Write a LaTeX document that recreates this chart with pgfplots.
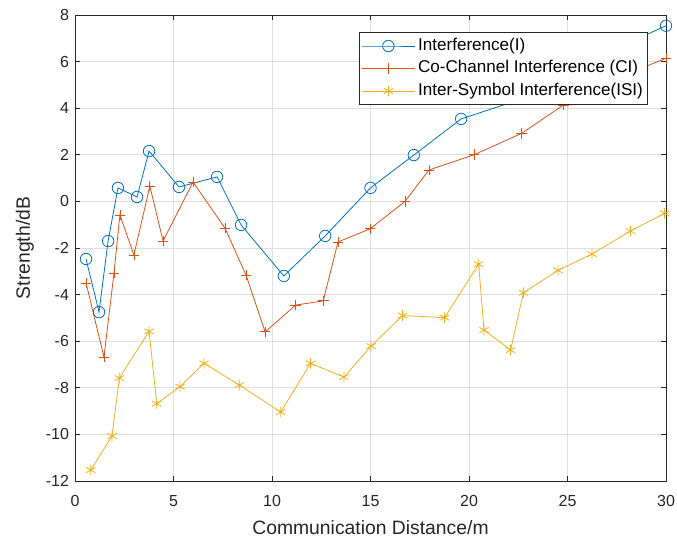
\documentclass[border=0pt]{standalone}
\usepackage{pgfplots}
\pgfplotsset{compat=1.18}
\usepackage{fontspec}
\setmainfont{Liberation Sans}
\definecolor{mblue}{HTML}{0072BD}
\definecolor{morange}{HTML}{D95319}
\definecolor{myellow}{HTML}{EDB120}
\definecolor{axgray}{HTML}{262626}
\definecolor{gridgray}{HTML}{DFDFDF}
\begin{document}
\begin{tikzpicture}
\begin{axis}[
  scale only axis,
  width=443.25pt, height=349.5pt,
  xmin=0, xmax=30, ymin=-12, ymax=8,
  xtick={0,5,...,30}, ytick={-12,-10,...,8},
  grid=major,
  major grid style={gridgray, line width=0.5pt},
  axis line style={axgray, line width=0.6pt},
  tick style={axgray, line width=0.6pt},
  tick align=inside,
  major tick length=4pt,
  ticklabel style={font=\fontsize{12pt}{14pt}\selectfont, text=axgray},
  xticklabel style={yshift=-7pt},
  yticklabel style={xshift=-1pt},
  /pgf/number format/assume math mode=true,
  xlabel={Communication Distance/m},
  ylabel={Strength/dB},
  label style={font=\fontsize{14.5pt}{16pt}\selectfont, text=axgray},
  xlabel style={yshift=-4pt},
  ylabel style={yshift=2pt},
  legend style={at={(rel axis cs:1,1)}, anchor=north east, xshift=-13.5pt, yshift=-13pt,
    font=\fontsize{12.8pt}{14pt}\selectfont, draw=axgray, line width=0.6pt, fill=white,
    cells={anchor=west}, inner sep=1.5pt, row sep=0pt,
    nodes={text height=9.7pt, text depth=3.2pt, inner sep=2pt}},
  legend image code/.code={\draw[mark repeat=2, mark phase=2, line width=0.6pt] plot coordinates {(0pt,0pt) (20pt,0pt) (40pt,0pt)};},
  every axis plot/.append style={line width=0.6pt},
]
\addplot[mblue, mark=o, mark size=4.3pt] coordinates {
(0.56,-2.47) (1.22,-4.75) (1.68,-1.70) (2.18,0.58) (3.15,0.19) (3.76,2.16)
(5.28,0.62) (7.21,1.05) (8.43,-1.01) (10.6,-3.2) (12.7,-1.48) (15.0,0.58)
(17.2,1.99) (19.6,3.54) (24.3,4.85) (27.2,6.45) (30,7.54)};
\addlegendentry{Interference(I)}
\addplot[morange, mark=+, mark size=4pt] coordinates {
(0.56,-3.5) (1.47,-6.68) (1.98,-3.07) (2.28,-0.58) (2.99,-2.3) (3.8,0.66)
(4.47,-1.70) (5.99,0.83) (7.61,-1.14) (8.68,-3.16) (9.65,-5.6) (11.2,-4.45)
(12.6,-4.27) (13.35,-1.74) (14.97,-1.18) (16.75,0.0) (17.97,1.35) (20.25,2.0)
(22.67,2.92) (24.8,4.14) (27.5,5.3) (30,6.14)};
\addlegendentry{Co-Channel Interference (CI)}
\addplot[myellow, mark=asterisk, mark size=4pt] coordinates {
(0.80,-11.53) (1.88,-10.07) (2.25,-7.58) (3.76,-5.58) (4.15,-8.68) (5.33,-7.95)
(6.55,-6.95) (8.34,-7.88) (10.44,-9.04) (11.96,-6.95) (13.65,-7.54) (15.03,-6.21)
(16.63,-4.9) (18.76,-4.99) (20.49,-2.69) (20.76,-5.52) (22.11,-6.38) (22.76,-3.92)
(24.52,-2.96) (26.24,-2.26) (28.2,-1.27) (29.93,-0.51)};
\addlegendentry{Inter-Symbol Interference(ISI)}
\end{axis}
\pgfresetboundingbox
\path ([xshift=-56.25pt,yshift=-44.25pt]current axis.south west) rectangle ([xshift=8.25pt,yshift=11.25pt]current axis.north east);
\end{tikzpicture}
\end{document}
